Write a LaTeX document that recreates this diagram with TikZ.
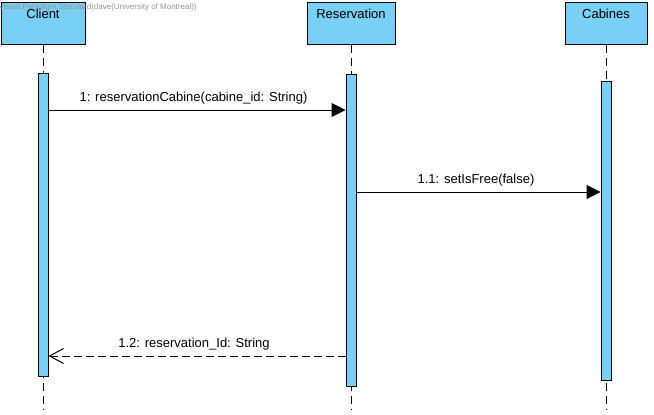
\documentclass[tikz,border=0pt]{standalone}
\usepackage{fontspec}
\setmainfont{Liberation Sans}
\usetikzlibrary{arrows.meta}
\definecolor{vpblue}{RGB}{122,207,245}

\begin{document}
\begin{tikzpicture}[x=1pt, y=-1pt, line width=1pt,
  obj/.style={draw, fill=vpblue, anchor=north, inner ysep=0pt,
              text height=16pt, text depth=26pt, font=\fontsize{13}{15}\selectfont},
  act/.style={draw, fill=vpblue, anchor=north, inner sep=0pt, minimum width=10pt},
  life/.style={dash pattern=on 8pt off 5pt},
  call/.style={-{Triangle[length=14pt,width=14pt]}},
  ret/.style={dash pattern=on 8pt off 4pt, -{Straight Barb[length=14pt,width=15pt]}},
  msg/.style={above=4pt, inner sep=1pt, font=\fontsize{13}{15}\selectfont}]
  \useasboundingbox (0,0) rectangle (654,415);
  \coordinate (bottom) at (0,410);
  \coordinate (m1) at (0,110);
  \coordinate (m2) at (0,192);
  \coordinate (m3) at (0,356);

  % objects
  \node[obj, minimum width=84pt] (client) at (43,2) {Client};
  \node[obj, minimum width=88pt] (reservation) at (351,2) {Reservation};
  \node[obj, minimum width=82pt] (cabines) at (606,2) {Cabines};

  % lifelines
  \draw[life] (client.south) -- (client.south |- bottom);
  \draw[life] (reservation.south) -- (reservation.south |- bottom);
  \draw[life] (cabines.south) -- (cabines.south |- bottom);

  % activations
  \node[act, minimum height=303pt] (clientAct) at (43,73) {};
  \node[act, minimum height=312pt] (reservationAct) at (351,74) {};
  \node[act, minimum height=299pt] (cabinesAct) at (606,81) {};

  % messages
  \draw[call] (clientAct.east |- m1) -- node[msg, xshift=-3.5pt] {1: reservationCabine(cabine\_id: String)} (reservationAct.west |- m1);
  \draw[call] (reservationAct.east |- m2) -- node[msg, xshift=-2.5pt] {1.1: setIsFree(false)} (cabinesAct.west |- m2);
  \draw[ret] (reservationAct.west |- m3) -- node[msg, xshift=-3pt] {1.2: reservation\_Id: String} (clientAct.east |- m3);

  \node[anchor=west, inner sep=0pt, text=gray!85, font=\fontsize{8}{9}\selectfont] (watermark) at (-2,7)
    {Visual Paradigm Standard(dave(University of Montreal))};
\end{tikzpicture}
\end{document}
